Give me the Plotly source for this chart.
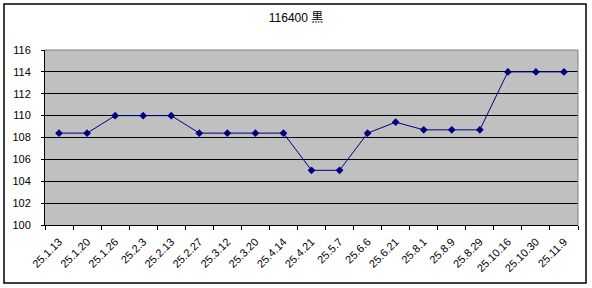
import plotly.graph_objects as go

categories = ["25.1.13", "25.1.20", "25.1.26", "25.2.3", "25.2.13", "25.2.27", "25.3.12",
              "25.3.20", "25.4.14", "25.4.21", "25.5.7", "25.6.6", "25.6.21", "25.8.1",
              "25.8.9", "25.8.29", "25.10.16", "25.10.30", "25.11.9"]
values = [108.4, 108.4, 110, 110, 110, 108.4, 108.4, 108.4, 108.4, 105, 105, 108.4,
          109.4, 108.7, 108.7, 108.7, 114, 114, 114]
y_ticks = [100, 102, 104, 106, 108, 110, 112, 114, 116]
title = "116400 黒"

W, H = 592, 288
L, R, T, B = 45, 14, 50, 63
pw, ph = W - L - R, H - T - B

fig = go.Figure()
fig.add_trace(go.Scatter(
    x=categories, y=values, mode="lines+markers",
    line=dict(color="#000080", width=1),
    marker=dict(symbol="diamond", size=6, color="#000080"),
    showlegend=False,
))

font = "Liberation Sans, Noto Sans CJK JP, sans-serif"
fig.update_layout(
    width=W, height=H,
    margin=dict(l=L, r=R, t=T, b=B, pad=0),
    paper_bgcolor="white", plot_bgcolor="#C0C0C0",
    title=dict(text=title, x=0.5, xanchor="center", y=1 - 18 / H, yanchor="middle",
               font=dict(family=font, size=12, color="black")),
    font=dict(family=font, size=10, color="black"),
    xaxis=dict(
        type="category", tickangle=-45, tickson="boundaries", ticks="outside",
        ticklen=4, tickcolor="black", showline=True, linecolor="black", linewidth=1,
        showgrid=False, mirror=False, tickfont=dict(size=11), ticklabelstandoff=5,
        range=[-0.5, len(categories) - 0.5],
    ),
    yaxis=dict(
        range=[100, 116], tickvals=y_ticks, ticks="outside", ticklen=3,
        tickcolor="black", showline=True, linecolor="black", linewidth=1,
        showgrid=True, gridcolor="black", gridwidth=1, zeroline=False,
        tickfont=dict(size=11), ticklabelstandoff=8,
    ),
    shapes=[
        dict(type="line", xref="paper", yref="paper", x0=1, x1=1, y0=0, y1=1,
             line=dict(color="#808080", width=1)),
        dict(type="line", xref="paper", yref="paper", x0=0, x1=1, y0=1, y1=1,
             line=dict(color="#808080", width=1)),
        dict(type="rect", xref="paper", yref="paper",
             x0=(4 - L) / pw, x1=(586 - L) / pw,
             y0=(H - B - 283) / ph, y1=(H - B - 4) / ph,
             line=dict(color="black", width=1.5), fillcolor="rgba(0,0,0,0)", layer="below"),
    ],
)

fig.write_html("out.html")
